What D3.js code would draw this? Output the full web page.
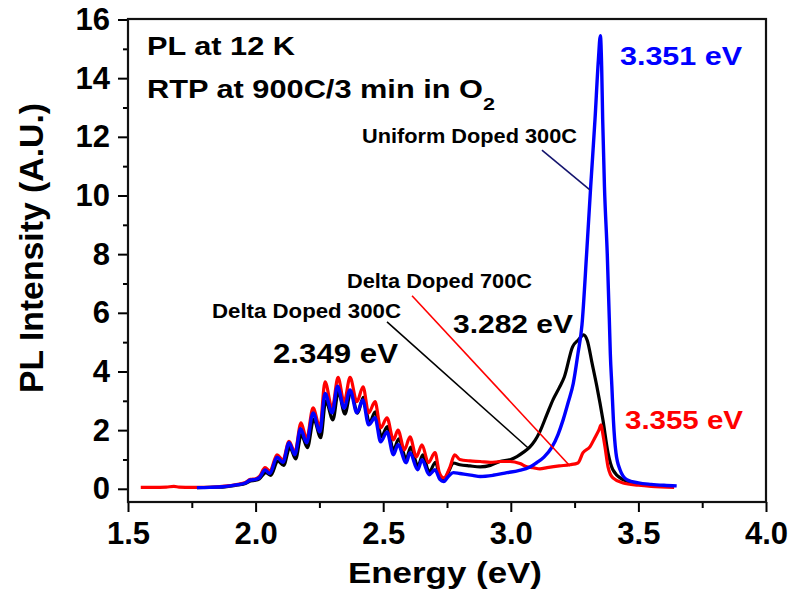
<!DOCTYPE html>
<html>
<head>
<meta charset="utf-8">
<script src="https://cdn.jsdelivr.net/npm/d3@7"></script>
<style>
    body { margin: 0; background: #fff; }
    text { font-family: "Liberation Sans", Arial, sans-serif; font-weight: bold; }
</style>
</head>
<body>
<div id="container"></div>
<script>
// PL spectra: [energy (eV), intensity (A.U.)]
const uniform300 = [
    [1.77,0.04],[1.82,0.05],[1.87,0.07],[1.90,0.10],[1.93,0.14],[1.96,0.20],[1.98,0.30],[2.00,0.32],
    [2.015,0.38],[2.037,0.64],[2.056,0.52],[2.084,1.08],[2.107,0.90],[2.131,1.57],[2.154,1.16],
    [2.176,2.05],[2.20,1.57],[2.225,2.59],[2.252,1.94],[2.272,3.25],[2.30,2.59],[2.321,3.50],
    [2.347,2.75],[2.37,3.37],[2.397,2.59],[2.42,3.03],[2.443,2.18],[2.468,2.42],[2.49,1.60],
    [2.515,1.94],[2.54,1.16],[2.558,1.50],[2.59,0.89],[2.605,1.23],[2.635,0.65],[2.652,0.99],
    [2.68,0.48],[2.703,0.65],[2.722,0.32],[2.737,0.25],[2.755,0.42],[2.775,0.55],[2.80,0.52],
    [2.85,0.46],[2.88,0.42],[2.93,0.46],[2.985,0.55],[3.03,0.62],[3.075,0.74],[3.10,0.88],
    [3.13,1.08],[3.16,1.40],[3.185,1.85],[3.205,2.35],[3.225,2.95],[3.245,3.60],[3.263,4.60],
    [3.279,5.60],[3.297,8.0],[3.313,10.3],[3.33,12.6],[3.343,14.6],[3.351,15.45],[3.356,14.4],
    [3.36,12.6],[3.367,10.3],[3.378,8.0],[3.386,5.8],[3.39,4.6],[3.396,3.5],[3.402,2.35],
    [3.412,1.23],[3.428,0.65],[3.455,0.31],[3.50,0.20],[3.55,0.15],[3.60,0.12],[3.65,0.10]
];
const delta300 = [
    [1.77,0.04],[1.82,0.05],[1.87,0.06],[1.90,0.09],[1.93,0.13],[1.96,0.18],[1.98,0.27],[2.00,0.29],
    [2.015,0.34],[2.04,0.55],[2.06,0.46],[2.087,0.95],[2.11,0.80],[2.134,1.42],[2.157,1.02],
    [2.179,1.85],[2.203,1.40],[2.228,2.38],[2.255,1.74],[2.275,3.0],[2.303,2.35],[2.324,3.3],
    [2.35,2.55],[2.373,3.3],[2.40,2.58],[2.422,3.12],[2.446,2.25],[2.469,2.62],[2.493,1.78],
    [2.516,2.12],[2.54,1.32],[2.561,1.70],[2.59,1.02],[2.608,1.42],[2.636,0.78],[2.655,1.16],
    [2.68,0.58],[2.705,0.90],[2.722,0.42],[2.74,0.33],[2.757,0.60],[2.775,0.88],[2.80,0.82],
    [2.84,0.78],[2.88,0.75],[2.92,0.80],[2.957,0.93],[3.00,1.00],[3.024,1.10],[3.05,1.25],
    [3.075,1.43],[3.095,1.65],[3.114,1.95],[3.14,2.50],[3.166,3.05],[3.19,3.45],[3.21,3.82],
    [3.242,4.84],[3.265,5.08],[3.285,5.25],[3.30,5.05],[3.318,4.30],[3.337,3.50],[3.361,2.35],
    [3.381,1.23],[3.40,0.65],[3.44,0.31],[3.48,0.20],[3.55,0.12],[3.62,0.08]
];
const delta700 = [
    [1.55,0.05],[1.60,0.05],[1.65,0.06],[1.68,0.08],[1.70,0.06],[1.75,0.05],[1.80,0.05],[1.85,0.07],
    [1.90,0.11],[1.93,0.15],[1.96,0.22],[1.98,0.32],[2.00,0.34],[2.015,0.42],[2.037,0.72],
    [2.056,0.60],[2.084,1.16],[2.107,0.98],[2.131,1.62],[2.154,1.25],[2.178,2.25],[2.20,1.70],
    [2.225,2.76],[2.252,2.10],[2.272,3.65],[2.30,2.75],[2.323,3.80],[2.347,2.95],[2.37,3.80],
    [2.397,2.97],[2.421,3.48],[2.443,2.59],[2.468,2.97],[2.49,2.08],[2.515,2.42],[2.54,1.67],
    [2.558,2.00],[2.583,1.33],[2.605,1.77],[2.63,1.09],[2.652,1.50],[2.677,0.89],[2.703,1.23],
    [2.72,0.55],[2.737,0.37],[2.762,0.75],[2.78,1.16],[2.80,1.00],[2.84,0.95],[2.88,0.93],
    [2.92,0.90],[2.96,0.93],[2.997,0.93],[3.036,0.86],[3.063,0.75],[3.087,0.72],[3.114,0.68],
    [3.142,0.72],[3.19,0.78],[3.232,0.82],[3.263,0.88],[3.283,1.23],[3.31,1.43],[3.33,1.75],
    [3.345,2.00],[3.354,2.18],[3.36,1.90],[3.369,1.43],[3.381,0.75],[3.40,0.37],[3.44,0.20],
    [3.50,0.12],[3.55,0.08],[3.64,0.05]
];

const xMajor = [1.5, 2.0, 2.5, 3.0, 3.5, 4.0];
const xMinor = [1.75, 2.25, 2.75, 3.25, 3.75];
const yMajor = [0, 2, 4, 6, 8, 10, 12, 14, 16];
const yMinor = [1, 3, 5, 7, 9, 11, 13, 15];

// leader lines from the sample labels to their curves, in data units
const leaders = [
    {color: "#14146e", from: [3.122, 11.55], to: [3.310, 10.19]},
    {color: "#ff0000", from: [2.613, 6.58], to: [3.232, 0.78]},
    {color: "#000000", from: [2.515, 5.69], to: [3.067, 1.40]}
];

const width = 793, height = 594;
const x = d3.scaleLinear().domain([1.5, 4.0]).range([128, 766]);
const y = d3.scaleLinear().domain([-0.45, 16]).range([502, 19.5]);

const svg = d3.select("#container").append("svg")
    .attr("width", width)
    .attr("height", height);

// axes (domain lines replaced by the frame below)
svg.append("g").attr("transform", `translate(0,${y(-0.45)})`)
    .call(d3.axisBottom(x).tickValues(xMajor).tickSize(10).tickPadding(10).tickFormat(d3.format(".1f")));
svg.append("g").attr("transform", `translate(0,${y(-0.45)})`)
    .call(d3.axisBottom(x).tickValues(xMinor).tickSize(6).tickFormat(""));
svg.append("g").attr("transform", `translate(${x(1.5)},0)`)
    .call(d3.axisLeft(y).tickValues(yMajor).tickSize(10).tickPadding(8));
svg.append("g").attr("transform", `translate(${x(1.5)},0)`)
    .call(d3.axisLeft(y).tickValues(yMinor).tickSize(5).tickFormat(""));

svg.selectAll(".domain").remove();
svg.selectAll(".tick line").attr("stroke", "#000").attr("stroke-width", 2);
svg.selectAll(".tick text")
    .attr("fill", "#000")
    .style("font-size", "31px")
    .style("font-family", "'Liberation Sans', Arial, sans-serif")
    .style("font-weight", "bold");

svg.append("rect")
    .attr("x", x(1.5)).attr("y", 19)
    .attr("width", x(4.0) - x(1.5)).attr("height", y(-0.45) - 19)
    .attr("fill", "none")
    .attr("stroke", "#111")
    .attr("stroke-width", 2.2);

// spectra
const line = d3.line()
    .x(d => x(d[0]))
    .y(d => y(d[1]))
    .curve(d3.curveMonotoneX);

const series = [
    {data: delta300, color: "#000000", w: 3.2},
    {data: delta700, color: "#ff0000", w: 3.2},
    {data: uniform300, color: "#0000ff", w: 3.4}
];
svg.selectAll("path.spec").data(series).enter().append("path")
    .attr("class", "spec")
    .attr("d", d => line(d.data))
    .attr("fill", "none")
    .attr("stroke", d => d.color)
    .attr("stroke-width", d => d.w)
    .attr("stroke-linejoin", "round");

svg.selectAll("line.leader").data(leaders).enter().append("line")
    .attr("class", "leader")
    .attr("x1", d => x(d.from[0])).attr("y1", d => y(d.from[1]))
    .attr("x2", d => x(d.to[0])).attr("y2", d => y(d.to[1]))
    .attr("stroke", d => d.color)
    .attr("stroke-width", 1.6);

// labels: text, left x, baseline y, width, font size, colour
const labels = [
    ["PL at 12 K", 147, 55, 148, 25, "#000"],
    ["RTP at 900C/3 min in O", 147, 98, 336, 25, "#000"],
    ["2", 483, 110, 12, 17, "#000"],
    ["Uniform Doped 300C", 362, 143, 215, 19.5, "#000"],
    ["Delta Doped 700C", 347, 288, 185, 19.5, "#000"],
    ["Delta Doped 300C", 212, 318, 189, 19.5, "#000"],
    ["2.349 eV", 273, 363, 125, 27, "#000"],
    ["3.282 eV", 453, 333, 120, 26, "#000"],
    ["3.355 eV", 625, 429, 118, 26, "#ff0000"],
    ["3.351 eV", 620, 65, 122, 25.5, "#0000ff"],
    ["Energy (eV)", 348, 583, 194, 30, "#000"]
];
svg.selectAll("text.lbl").data(labels).enter().append("text")
    .attr("class", "lbl")
    .attr("x", d => d[1]).attr("y", d => d[2])
    .attr("textLength", d => d[3])
    .attr("lengthAdjust", "spacingAndGlyphs")
    .style("font-size", d => d[4] + "px")
    .attr("fill", d => d[5])
    .text(d => d[0]);

svg.append("text")
    .attr("transform", "translate(43,248) rotate(-90)")
    .attr("text-anchor", "middle")
    .attr("textLength", 290)
    .attr("lengthAdjust", "spacingAndGlyphs")
    .style("font-size", "34px")
    .text("PL Intensity (A.U.)");
</script>
</body>
</html>
